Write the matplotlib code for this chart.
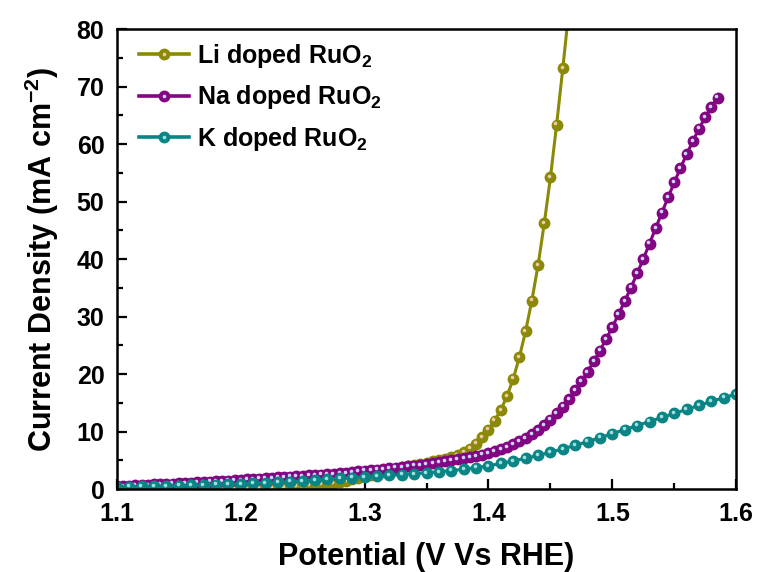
import numpy as np
import matplotlib
matplotlib.use('Agg')
import matplotlib.pyplot as plt
import matplotlib.ticker as mtick
from matplotlib.transforms import offset_copy

plt.rcParams['font.family'] = ['Liberation Sans', 'DejaVu Sans']
plt.rcParams['font.weight'] = 'bold'
plt.rcParams['mathtext.fontset'] = 'custom'
plt.rcParams['mathtext.rm'] = 'Liberation Sans:bold'
plt.rcParams['mathtext.bf'] = 'Liberation Sans:bold'
plt.rcParams['mathtext.default'] = 'bf'

# LSV curves, potential in V vs RHE, current density in mA cm-2
li_start, li_step = 1.100, 0.005
li_current = [
    0.30, 0.25, 0.20, 0.15, 0.12, 0.10, 0.08, 0.06, 0.05, 0.04,
    0.03, 0.02, 0.02, 0.01, 0.01, 0.00, 0.00, 0.00, 0.00, 0.00,
    0.00, 0.02, 0.05, 0.08, 0.12, 0.18, 0.25, 0.32, 0.40, 0.48,
    0.56, 0.64, 0.72, 0.82, 0.93, 1.05, 1.20, 1.42, 1.68, 1.95,
    2.22, 2.50, 2.78, 3.05, 3.30, 3.55, 3.78, 4.00, 4.20, 4.40,
    4.60, 4.80, 5.02, 5.28, 5.58, 5.95, 6.42, 7.05, 7.90, 9.00,
    10.35, 11.90, 13.80, 16.20, 19.20, 23.00, 27.50, 32.80, 38.90, 46.20,
    54.20, 63.40, 73.20, 83.50,
]

na_start, na_step = 1.100, 0.005
na_current = [
    0.50, 0.55, 0.60, 0.65, 0.70, 0.75, 0.80, 0.85, 0.90, 0.95,
    1.00, 1.06, 1.12, 1.18, 1.24, 1.30, 1.36, 1.42, 1.48, 1.54,
    1.60, 1.67, 1.74, 1.81, 1.88, 1.95, 2.02, 2.09, 2.16, 2.23,
    2.30, 2.37, 2.44, 2.51, 2.58, 2.66, 2.74, 2.82, 2.92, 3.10,
    3.20, 3.30, 3.40, 3.50, 3.61, 3.72, 3.84, 3.96, 4.09, 4.23,
    4.40, 4.54, 4.69, 4.85, 5.02, 5.20, 5.40, 5.60, 5.80, 6.00,
    6.20, 6.55, 6.92, 7.32, 7.78, 8.28, 8.85, 9.55, 10.30, 11.15,
    12.10, 13.15, 14.35, 15.70, 17.20, 18.75, 20.40, 22.20, 24.10, 26.10,
    28.20, 30.40, 32.70, 35.05, 37.50, 40.05, 42.70, 45.40, 48.10, 50.75,
    53.35, 55.85, 58.25, 60.55, 62.70, 64.70, 66.50, 68.10,
]

k_start, k_step = 1.10, 0.01
k_current = [
    0.40, 0.43, 0.47, 0.51, 0.55, 0.60, 0.65, 0.71, 0.77, 0.84,
    0.92, 1.01, 1.10, 1.20, 1.31, 1.43, 1.56, 1.70, 1.85, 1.98,
    2.12, 2.24, 2.36, 2.50, 2.65, 2.82, 3.00, 3.22, 3.45, 3.72,
    4.05, 4.45, 4.90, 5.35, 5.85, 6.40, 7.00, 7.60, 8.25, 8.95,
    9.65, 10.35, 11.05, 11.75, 12.45, 13.15, 13.85, 14.55, 15.25, 15.90,
    16.55,
]

labels = ['Li doped RuO$_2$', 'Na doped RuO$_2$', 'K doped RuO$_2$']
colors = ['#8a8a08', '#820682', '#0a8585']
shine = ['#f2c9a6', '#c9d6fb', '#9fe0e0']


def potential(start, step, values):
    return start + step * np.arange(len(values))


series = [
    (potential(li_start, li_step, li_current), li_current),
    (potential(na_start, na_step, na_current), na_current),
    (potential(k_start, k_step, k_current), k_current),
]

fig = plt.figure(figsize=(7.59, 5.72), dpi=100)
ax = fig.add_axes([0.154, 0.145, 0.816, 0.804])

# small light dot shifted up-left on each marker gives the ball look
shine_tf = offset_copy(ax.transData, fig=fig, x=-1.2, y=1.2, units='dots')

handles = []
for (x, y), lab, c, s in zip(series, labels, colors, shine):
    line, = ax.plot(x, y, '-o', color=c, lw=2.2, ms=7.5, mec=c, mfc=c, label=lab)
    dot, = ax.plot(x, y, 'o', ms=2.6, mfc=s, mec='none', transform=shine_tf)
    handles.append((line, dot))

ax.set_xlim(1.1, 1.6)
ax.set_ylim(0, 80)
ax.xaxis.set_major_locator(mtick.MultipleLocator(0.1))
ax.xaxis.set_minor_locator(mtick.MultipleLocator(0.05))
ax.xaxis.set_major_formatter(mtick.FormatStrFormatter('%.1f'))
ax.yaxis.set_major_locator(mtick.MultipleLocator(10))
ax.yaxis.set_minor_locator(mtick.MultipleLocator(5))

ax.tick_params(which='both', direction='in', width=1.6, labelsize=18)
ax.tick_params(which='major', length=7)
ax.tick_params(which='minor', length=4.5)
ax.tick_params(axis='x', pad=9)
ax.tick_params(axis='y', pad=9)
for sp in ax.spines.values():
    sp.set_linewidth(1.8)

ax.set_xlabel('Potential (V Vs RHE)', fontsize=22, fontweight='bold', labelpad=12)
ax.set_ylabel('Current Density (mA cm$^{-2}$)', fontsize=22, fontweight='bold', labelpad=11)

leg = ax.legend(handles, labels, loc='upper left', frameon=False, fontsize=18,
                handlelength=2.0, handletextpad=0.35, labelspacing=0.55,
                borderaxespad=0.1, bbox_to_anchor=(0.015, 1.0))
for h in leg.legend_handles:
    if hasattr(h, 'set_linewidth'):
        h.set_linewidth(2.6)

fig.savefig('out.png', dpi=100)
